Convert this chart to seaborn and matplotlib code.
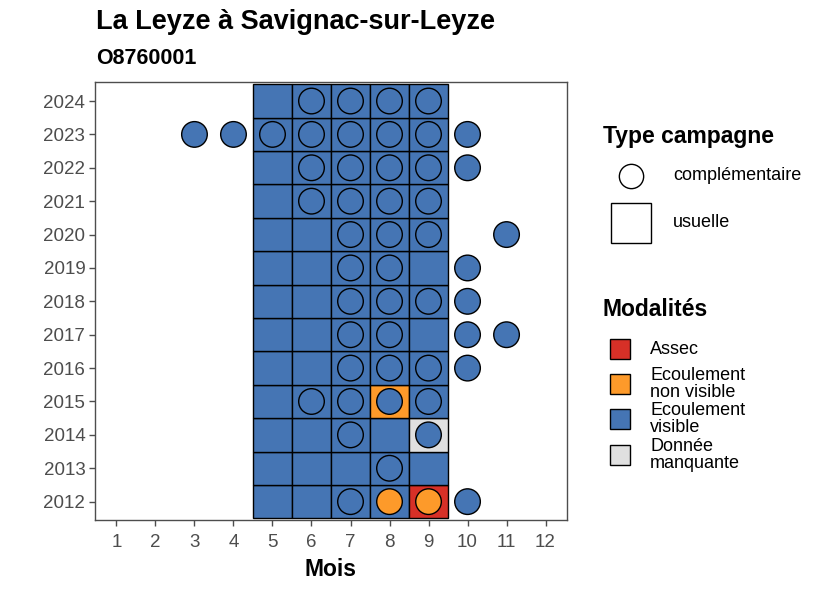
import matplotlib
matplotlib.use("Agg")
import matplotlib.pyplot as plt
from matplotlib.lines import Line2D
from matplotlib.patches import Rectangle
import seaborn as sns
import pandas as pd

# usual campaigns: months 5-9, 2012-2024, all "Ecoulement visible" except a few
years = list(range(2012, 2025))
usual_months = [5, 6, 7, 8, 9]
usual_special = {(2015, 8): "Ecoulement\nnon visible",
                 (2014, 9): "Donnée\nmanquante",
                 (2012, 9): "Assec"}

# complementary campaigns (year, month, modality)
comp_years = [2024, 2024, 2024, 2024,
              2023, 2023, 2023, 2023, 2023, 2023, 2023, 2023,
              2022, 2022, 2022, 2022, 2022,
              2021, 2021, 2021, 2021,
              2020, 2020, 2020, 2020,
              2019, 2019, 2019,
              2018, 2018, 2018, 2018,
              2017, 2017, 2017, 2017,
              2016, 2016, 2016, 2016,
              2015, 2015, 2015, 2015,
              2014, 2014,
              2013,
              2012, 2012, 2012, 2012]
comp_months = [6, 7, 8, 9,
               3, 4, 5, 6, 7, 8, 9, 10,
               6, 7, 8, 9, 10,
               6, 7, 8, 9,
               7, 8, 9, 11,
               7, 8, 10,
               7, 8, 9, 10,
               7, 8, 10, 11,
               7, 8, 9, 10,
               6, 7, 8, 9,
               7, 9,
               8,
               7, 8, 9, 10]
comp_mods = ["Ecoulement\nvisible"] * len(comp_years)
comp_mods[-3] = "Ecoulement\nnon visible"
comp_mods[-2] = "Ecoulement\nnon visible"

modalites = ["Assec", "Ecoulement\nnon visible", "Ecoulement\nvisible", "Donnée\nmanquante"]
colors = ["#D73027", "#FD9A2A", "#4575B4", "#E0E0E0"]
palette = dict(zip(modalites, colors))
campagnes = ["complémentaire", "usuelle"]

usual = pd.DataFrame([(y, m, usual_special.get((y, m), "Ecoulement\nvisible"))
                      for y in years for m in usual_months],
                     columns=["annee", "mois", "modalite"])
comp = pd.DataFrame({"annee": comp_years, "mois": comp_months, "modalite": comp_mods})

sns.set_theme(style="white")
plt.rcParams["font.family"] = ["Liberation Sans", "DejaVu Sans"]
plt.rcParams["text.color"] = "black"

W, H = 826, 590
fig = plt.figure(figsize=(W / 100, H / 100), dpi=100)
ax = fig.add_axes([95 / W, 1 - 520 / H, (567 - 95) / W, (520 - 82) / H])

# tiles
ax.bar(usual["mois"], 1, bottom=usual["annee"] - 0.5, width=1,
       color=usual["modalite"].map(palette), edgecolor="black", linewidth=1, zorder=2)

# circles
sns.scatterplot(data=comp, x="mois", y="annee", hue="modalite", palette=palette,
                s=340, edgecolor="black", linewidth=1, legend=False, zorder=3, ax=ax)

ax.set_xlim(0.45, 12.55)
ax.set_ylim(2011.45, 2024.57)
ax.set_xticks(range(1, 13))
ax.set_yticks(years)
ax.tick_params(axis="both", which="both", direction="out", length=4, width=1,
               colors="#4D4D4D", labelsize=13.5, labelcolor="#4D4D4D",
               bottom=True, left=True, pad=3)
ax.tick_params(axis="x", pad=6)
ax.set_xlabel("Mois", fontsize=16.5, fontweight="bold", color="black", labelpad=5)
ax.set_ylabel("")
for sp in ax.spines.values():
    sp.set_color("#4D4D4D")
    sp.set_linewidth(1)

fig.text(96 / W, 1 - 22 / H, "La Leyze à Savignac-sur-Leyze", fontsize=19.5,
         fontweight="bold", va="center", ha="left")
fig.text(96 / W, 1 - 58 / H, "O8760001", fontsize=15.5, fontweight="bold",
         va="center", ha="left")


def px(x, y):
    return x / W, 1 - y / H


# legend: Type campagne
fig.text(*px(603, 136), "Type campagne", fontsize=16.5, fontweight="bold", va="center")
fig.add_artist(Line2D([631 / W], [1 - 176 / H], marker="o", markersize=17.5,
                      markerfacecolor="white", markeredgecolor="black",
                      markeredgewidth=1, linestyle="none", transform=fig.transFigure))
fig.add_artist(Line2D([631 / W], [1 - 223 / H], marker="s", markersize=29.5,
                      markerfacecolor="white", markeredgecolor="black",
                      markeredgewidth=1, linestyle="none", transform=fig.transFigure))
for lab, yc in zip(campagnes, [176, 223]):
    fig.text(*px(673, yc), lab, fontsize=13, va="center")

# legend: Modalités
fig.text(*px(603, 310), "Modalités", fontsize=16.5, fontweight="bold", va="center")
for lab, col, yc in zip(modalites, colors, [349, 384, 419, 455]):
    fig.add_artist(Rectangle(px(610, yc + 10), 20 / W, 20 / H, facecolor=col,
                             edgecolor="black", linewidth=1, transform=fig.transFigure))
    fig.text(*px(650, yc), lab, fontsize=13, va="center", linespacing=0.95)

fig.savefig("out.png", dpi=100)
